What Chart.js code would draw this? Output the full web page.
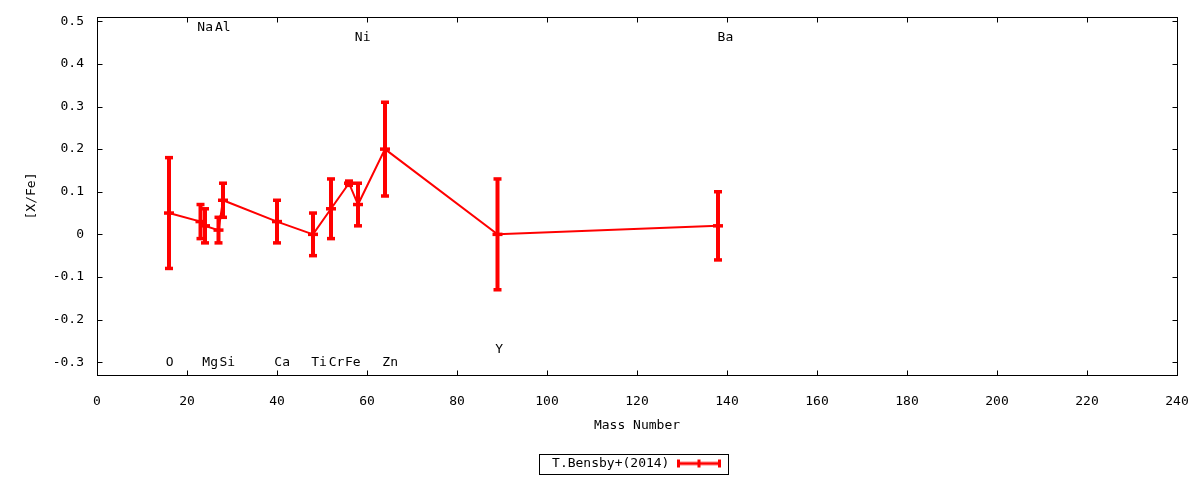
<!DOCTYPE html>
<html><head><meta charset="utf-8">
<script src="https://cdn.jsdelivr.net/npm/chart.js@4.4.1/dist/chart.umd.min.js"></script>
<style>html,body{margin:0;padding:0;background:#fff;}</style>
</head><body>
<canvas id="c" width="1200" height="480" style="width:1200px;height:480px;display:block"></canvas>
<script>
// ---- data ----
const elements = ['O','Na','Mg','Al','Si','Ca','Ti','Cr','Fe','Ni','Zn','Y','Ba'];
const massNumbers = [16,23,24,27,28,40,48,52,56,58,64,89,138];
const abundances = [0.05,0.03,0.02,0.01,0.08,0.03,0.00,0.06,0.12,0.07,0.20,0.00,0.02];
const errors = [0.13,0.04,0.04,0.03,0.04,0.05,0.05,0.07,0.005,0.05,0.11,0.13,0.08];
const labelText = ['O','Na','Mg','Al','Si','Ca','Ti','Cr','Fe','Ni','Zn','Y','Ba'];
const labelX = [15.3,22.3,23.4,26.2,27.2,39.4,47.6,51.5,55.1,57.3,63.4,88.5,137.9];
const labelY = [-0.30,0.485,-0.30,0.485,-0.30,-0.30,-0.30,-0.30,-0.30,0.462,-0.30,-0.27,0.462];
const xTicks = [0,20,40,60,80,100,120,140,160,180,200,220,240];
const yTicks = [-0.3,-0.2,-0.1,0,0.1,0.2,0.3,0.4,0.5];
const seriesName = 'T.Bensby+(2014)';

const RED = '#ff0000';
const FONT = '"DejaVu Sans Mono", "Liberation Mono", monospace';
Chart.defaults.font.family = FONT;
Chart.defaults.font.size = 13;
Chart.defaults.color = '#000';

// legend symbol (errorbar style)
const sym = document.createElement('canvas');
sym.width = 46; sym.height = 10;
(function(){
  const g = sym.getContext('2d');
  g.fillStyle = RED;
  g.fillRect(1, 3.5, 44, 3);
  g.fillRect(1, 1, 3, 8);
  g.fillRect(21.5, 1, 3, 8);
  g.fillRect(42, 1, 3, 8);
})();

const mainData = massNumbers.map((m, i) => ({x: m, y: abundances[i]}));
const errData = [];
massNumbers.forEach((m, i) => {
  errData.push({x: m, y: abundances[i] - errors[i]});
  errData.push({x: m, y: abundances[i] + errors[i]});
  errData.push({x: m, y: null});
});

const framePlugin = {
  id: 'frame',
  beforeDatasetsDraw(chart) {
    const {ctx, chartArea: a, scales: {x, y}} = chart;
    ctx.save();
    ctx.strokeStyle = '#000';
    ctx.lineWidth = 1;
    ctx.beginPath();
    const L = Math.round(a.left) + 0.5, R = Math.round(a.right) + 0.5;
    const T = Math.round(a.top) + 0.5, B = Math.round(a.bottom) + 0.5;
    xTicks.forEach(v => {
      const px = Math.round(x.getPixelForValue(v)) + 0.5;
      ctx.moveTo(px, B); ctx.lineTo(px, B - 5);
      ctx.moveTo(px, T); ctx.lineTo(px, T + 5);
    });
    yTicks.forEach(v => {
      const py = Math.round(y.getPixelForValue(v)) + 0.5;
      ctx.moveTo(L, py); ctx.lineTo(L + 5, py);
      ctx.moveTo(R, py); ctx.lineTo(R - 5, py);
    });
    ctx.stroke();
    ctx.strokeRect(L, T, R - L, B - T);
    ctx.restore();
  }
};

const labelPlugin = {
  id: 'elementLabels',
  afterDatasetsDraw(chart) {
    const {ctx, scales: {x, y}} = chart;
    ctx.save();
    ctx.font = '13px ' + FONT;
    ctx.fillStyle = '#000';
    ctx.textAlign = 'left';
    ctx.textBaseline = 'middle';
    labelText.forEach((t, i) => {
      ctx.fillText(t, x.getPixelForValue(labelX[i]), y.getPixelForValue(labelY[i]));
    });
    ctx.restore();
  }
};

const legendBoxPlugin = {
  id: 'legendBox',
  afterDraw(chart) {
    const lg = chart.legend;
    if (!lg || !lg.legendHitBoxes || !lg.legendHitBoxes.length) return;
    const hb = lg.legendHitBoxes[0];
    const cy = hb.top + hb.height / 2;
    const ctx = chart.ctx;
    ctx.save();
    ctx.strokeStyle = '#000';
    ctx.lineWidth = 1;
    ctx.strokeRect(Math.round(hb.left - 13) + 0.5, Math.round(cy - 10) + 0.5, Math.round(hb.width + 19), 20);
    ctx.restore();
  }
};

new Chart(document.getElementById('c'), {
  type: 'line',
  data: {
    datasets: [
      {
        label: seriesName,
        data: mainData,
        borderColor: RED,
        backgroundColor: RED,
        borderWidth: 2,
        pointStyle: 'line',
        pointRadius: 5,
        pointBorderWidth: 3.5,
        pointBorderColor: RED,
        pointBackgroundColor: RED,
        tension: 0,
        order: 0
      },
      {
        label: 'errorbars',
        data: errData,
        borderColor: RED,
        backgroundColor: RED,
        borderWidth: 4,
        spanGaps: false,
        pointStyle: 'line',
        pointRadius: 4,
        pointBorderWidth: 3.5,
        pointBorderColor: RED,
        pointBackgroundColor: RED,
        order: 1
      }
    ]
  },
  options: {
    responsive: false,
    animation: false,
    layout: {padding: {top: 17, right: 23, bottom: 0, left: 0}},
    scales: {
      x: {
        type: 'linear',
        min: 0, max: 240,
        grid: {display: false, drawTicks: false},
        border: {display: false},
        afterBuildTicks(s) { s.ticks = xTicks.map(v => ({value: v})); },
        afterFit(s) { s.height = 74; s.paddingLeft = 0; s.paddingRight = 0; },
        ticks: {padding: 19, color: '#000', font: {size: 13}, maxRotation: 0, callback: v => String(v)},
        title: {display: true, text: 'Mass Number', color: '#000', font: {size: 13}, padding: {top: 0, bottom: 16}}
      },
      y: {
        type: 'linear',
        min: -0.33, max: 0.51,
        grid: {display: false, drawTicks: false},
        border: {display: false},
        afterBuildTicks(s) { s.ticks = yTicks.map(v => ({value: v})); },
        afterFit(s) { s.width = 97; s.paddingTop = 0; s.paddingBottom = 0; },
        ticks: {padding: 13, color: '#000', font: {size: 13}, callback: v => String(Number(v.toFixed(1)))},
        title: {display: true, text: '[X/Fe]', color: '#000', font: {size: 13}, padding: {top: 24, bottom: 0}}
      }
    },
    plugins: {
      tooltip: {enabled: false},
      legend: {
        display: true,
        position: 'bottom',
        fullSize: false,
        rtl: true,
        textDirection: 'ltr',
        labels: {
          filter: item => item.datasetIndex === 0,
          usePointStyle: true,
          pointStyle: sym,
          pointStyleWidth: 46,
          padding: 8,
          color: '#000',
          font: {size: 13}
        }
      }
    }
  },
  plugins: [framePlugin, labelPlugin, legendBoxPlugin]
});
</script>
</body></html>
